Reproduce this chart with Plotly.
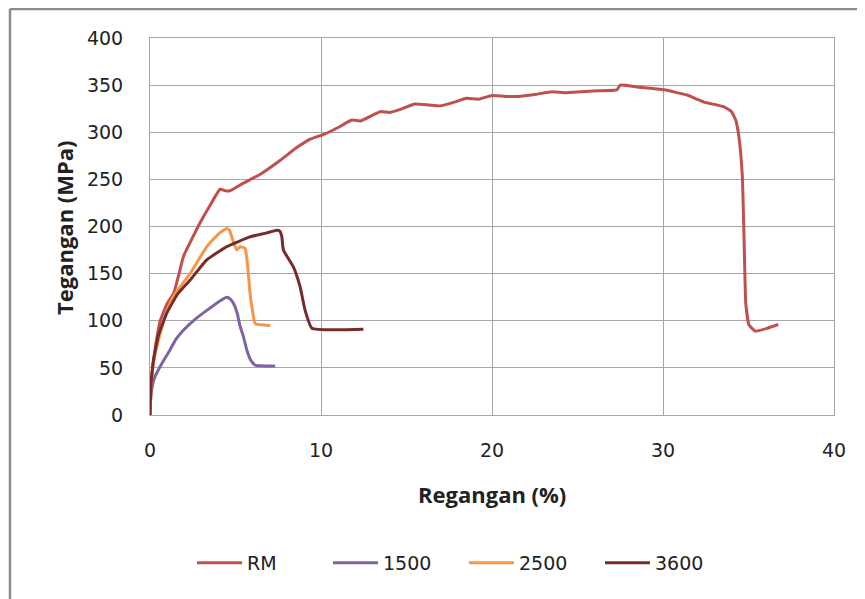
import plotly.graph_objects as go

# Data
rm_x = [0, 0.05, 0.1, 0.3, 0.6, 1.0, 1.4, 1.7, 1.95, 2.4, 2.93, 3.5, 4.1, 4.4, 4.68, 5.27, 6.5, 7.6, 8.6, 9.4, 10.2, 11.0, 11.8, 12.3, 13.0, 13.5, 14.0, 14.6, 15.5, 16.3, 17.0, 17.8, 18.5, 19.2, 20.0, 20.8, 21.5, 22.5, 23.5, 24.3, 25.2, 26.2, 27.3, 27.5, 28.5, 30.06, 31.4, 32.0, 32.4, 33.56, 34.0, 34.25, 34.44, 34.64, 34.75, 34.84, 35.03, 35.4, 36.1, 36.74]
rm_y = [0, 25, 40, 70, 100, 118, 130, 150, 168, 185, 204, 222, 239.5, 238, 238, 244, 256, 270, 284, 293, 298, 305, 313, 312, 318, 322, 321, 324, 330, 329, 328, 332, 336, 335, 339, 338, 338, 340, 343, 342, 343, 344, 345, 350, 348, 345, 339.5, 335, 332, 327, 322, 313, 295, 253, 180, 118.5, 95.5, 89, 92, 96]

s1500_x = [0, 0.05, 0.15, 0.29, 0.7, 1.17, 1.5, 1.95, 2.6, 3.32, 4.0, 4.49, 4.7, 4.88, 5.1, 5.27, 5.45, 5.66, 5.9, 6.15, 7.32]
s1500_y = [0, 20, 32, 40.6, 55, 69, 80, 90, 101, 111, 120, 125, 123, 118.5, 108, 94, 84, 69, 58, 53, 52]

s2500_x = [0, 0.05, 0.2, 0.5, 0.9, 1.36, 2.34, 3.32, 4.0, 4.49, 4.65, 4.78, 5.07, 5.27, 5.56, 5.7, 5.85, 6.0, 6.15, 7.03]
s2500_y = [0, 30, 55, 80, 105, 125.5, 150, 178.6, 192, 198, 196, 189, 175, 178.6, 177, 160, 129, 110, 97, 95]

s3600_x = [0, 0.05, 0.2, 0.5, 0.98, 1.6, 2.34, 3.32, 4.49, 5.85, 6.8, 7.42, 7.6, 7.71, 7.8, 8.39, 8.78, 9.07, 9.47, 12.48]
s3600_y = [0, 30, 58, 85, 108, 128, 143, 164.5, 178.6, 189, 193, 196, 195, 189, 175, 157, 136, 111, 92, 91]

series = [
    ("RM", rm_x, rm_y, "#C0504D"),
    ("1500", s1500_x, s1500_y, "#8064A2"),
    ("2500", s2500_x, s2500_y, "#F79646"),
    ("3600", s3600_x, s3600_y, "#772C2A"),
]

x_ticks = [0, 10, 20, 30, 40]
y_ticks = [0, 50, 100, 150, 200, 250, 300, 350, 400]

fig = go.Figure()
for name, xs, ys, col in series:
    fig.add_trace(go.Scatter(x=xs, y=ys, mode="lines", name=name,
                             line=dict(color=col, width=3, shape="spline", smoothing=0.4)))

tick_font = "DejaVu Sans, sans-serif"
title_font = "Open Sans, Liberation Sans, sans-serif"
W, H = 865, 599
OFF = 8  # page body margin
# plot area in screenshot pixels
L, R, T, B = 150, 834, 38, 415
pw, ph = R - L, B - T

def px_x(p):
    return (p - L) / pw

def px_y(p):
    return (B - p) / ph

fig.update_layout(
    width=W, height=H,
    margin=dict(l=L - OFF, r=W - (R - OFF), t=T - OFF, b=H - (B - OFF)),
    paper_bgcolor="white", plot_bgcolor="white",
    font=dict(family=tick_font, size=19, color="#222222"),
    showlegend=True,
    legend=dict(orientation="h", x=px_x(192), xanchor="left", y=px_y(563), yanchor="middle",
                font=dict(size=19, family=tick_font), traceorder="normal",
                itemwidth=45, entrywidth=76, entrywidthmode="pixels", tracegroupgap=0),
    xaxis=dict(range=[0, 40], tickvals=x_ticks, showgrid=True, gridcolor="#a6a6a6", gridwidth=1,
               zeroline=False, showline=True, linecolor="#a6a6a6", linewidth=1, mirror=True,
               ticks="", tickfont=dict(size=19), ticklabelstandoff=18, fixedrange=True),
    yaxis=dict(range=[0, 400], tickvals=y_ticks, showgrid=True, gridcolor="#a6a6a6", gridwidth=1,
               zeroline=False, showline=True, linecolor="#a6a6a6", linewidth=1, mirror=True,
               ticks="", tickfont=dict(size=19), ticklabelstandoff=22, fixedrange=True),
    annotations=[
        dict(text="<b>Regangan (%)</b>", xref="paper", yref="paper", x=px_x(492), y=px_y(494),
             xanchor="center", yanchor="middle", showarrow=False, font=dict(size=22, family=title_font)),
        dict(text="<b>Tegangan (MPa)</b>", xref="paper", yref="paper", x=px_x(64), y=px_y(228),
             xanchor="center", yanchor="middle", showarrow=False, textangle=-90,
             font=dict(size=22, family=title_font)),
    ],
    shapes=[
        dict(type="line", xref="paper", yref="paper", x0=px_x(10), x1=px_x(870), y0=px_y(9), y1=px_y(9),
             line=dict(color="#8c8c8c", width=2.5)),
        dict(type="line", xref="paper", yref="paper", x0=px_x(10), x1=px_x(10), y0=px_y(9), y1=px_y(610),
             line=dict(color="#8c8c8c", width=2.5)),
    ],
)

fig.write_html("out.html")
